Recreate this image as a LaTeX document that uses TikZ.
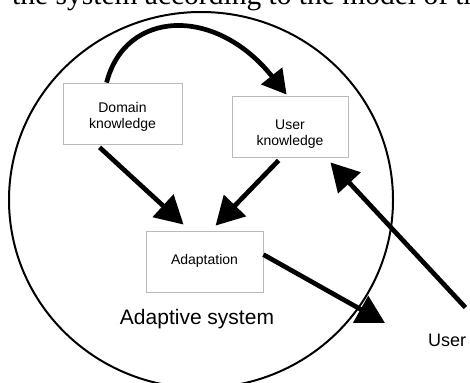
\documentclass[tikz,border=0pt]{standalone}
\usepackage{fontspec}
\setmainfont{Liberation Sans}
\newfontfamily\topfont{Liberation Serif}
\usetikzlibrary{arrows.meta}
\tikzset{
  box/.style={draw=gray!55, line width=0.8pt, fill=white},
  boxtxt/.style={align=center, font=\fontsize{14}{16}\selectfont},
  bigarrow/.style={line width=4.7pt, -{Triangle[length=28pt,width=30pt]}},
}
\begin{document}
\begin{tikzpicture}[x=1pt,y=-1pt]
\useasboundingbox (0,0) rectangle (470,382);
\clip (0,0) rectangle (470,382);
\node[anchor=base west, inner sep=0, font=\topfont\fontsize{29.5}{32}\selectfont] (top) at (12,4.5) {the system according to the model of the user};
\draw[line width=2pt] (201,200) ellipse [x radius=192, y radius=188];
\node[box, minimum width=119pt, minimum height=61pt] (domain) at (122.5,113.5) {};
\node[boxtxt] (domaintxt) at (122.5,117) {Domain\\knowledge};
\node[box, minimum width=116pt, minimum height=61pt] (user) at (290,126.5) {};
\node[boxtxt] (usertxt) at (290,134) {User\\knowledge};
\node[box, minimum width=117pt, minimum height=61pt] (adapt) at (204.5,261.5) {};
\node[boxtxt] (adapttxt) at (204.5,261) {Adaptation};
\node[font=\fontsize{21}{24}\selectfont] (system) at (197,319) {Adaptive system};
\node[anchor=west, inner sep=0, font=\fontsize{18}{20}\selectfont] (userlbl) at (428,340) {User};
\draw[line width=4.7pt, -{Triangle[length=24pt,width=26pt]}]([shift={(44,0)}]domain.north west) .. controls (125,10) and (215,5) .. ([shift={(55,-1)}]user.north west);
\draw[bigarrow]([shift={(37,3)}]domain.south west) -- ([shift={(38,-6)}]adapt.north west);
\draw[bigarrow]([shift={(47,3)}]user.south west) -- ([shift={(70,-5)}]adapt.north west);
\draw[bigarrow]([shift={(-1,-26)}]userlbl.north east) -- ([shift={(-18,5)}]user.south east);
\draw[bigarrow]([shift={(0,24)}]adapt.north east) -- ([shift={(-43,-17)}]userlbl.west);
\end{tikzpicture}
\end{document}
